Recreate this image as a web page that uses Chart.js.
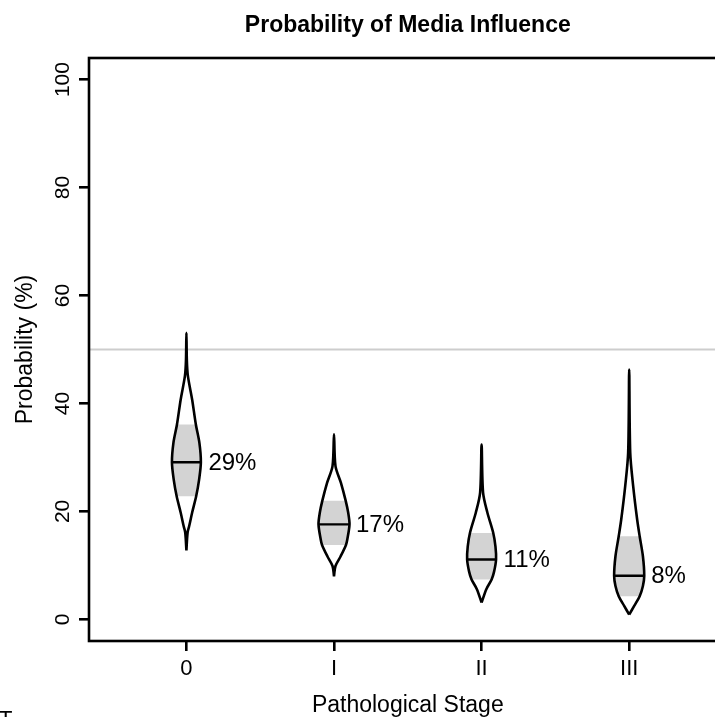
<!DOCTYPE html>
<html>
<head>
<meta charset="utf-8">
<title>Probability of Media Influence</title>
<script src="https://cdn.jsdelivr.net/npm/chart.js@4.4.0/dist/chart.umd.min.js"></script>
<style>
  html, body { margin: 0; padding: 0; background: #fff; overflow: hidden; }
  #wrap { width: 740px; height: 717px; }
</style>
</head>
<body>
<div id="wrap"><canvas id="violinChart" width="740" height="717"></canvas></div>
<script>
// Stages and summary values
var stages = ['0', 'I', 'II', 'III'];
var medians = [29.1, 17.6, 11.1, 8.1];
var pctLabels = ['29%', '17%', '11%', '8%'];
var upperQ = [36.1, 22.0, 16.0, 15.4];
var lowerQ = [22.8, 13.8, 7.4, 4.3];
var yTicks = [0, 20, 40, 60, 80, 100];
var refLine = 50;

// Violin outlines: probability levels (top to bottom) and half widths (stage units)
var levels0 = [53.1, 48.0, 45.1, 40.7, 36.1, 32.7, 29.1, 25.9, 22.8, 19.8, 17.2, 16.1, 12.8];
var widths0 = [0, 0.003, 0.010, 0.039, 0.064, 0.088, 0.098, 0.086, 0.066, 0.039, 0.018, 0.008, 0];
var levels1 = [34.3, 28.4, 25.3, 22.0, 19.8, 17.6, 14.8, 13.8, 11.7, 9.9, 8.0];
var widths1 = [0, 0.010, 0.047, 0.079, 0.096, 0.105, 0.090, 0.081, 0.045, 0.010, 0];
var levels2 = [32.4, 23.5, 19.8, 16.0, 13.5, 11.1, 8.9, 7.4, 5.6, 3.1];
var widths2 = [0, 0.010, 0.039, 0.079, 0.094, 0.098, 0.085, 0.068, 0.032, 0];
var levels3 = [46.3, 30.9, 24.7, 18.5, 15.4, 11.7, 8.1, 6.2, 4.3, 2.5, 0.9];
var widths3 = [0, 0.007, 0.027, 0.054, 0.071, 0.093, 0.102, 0.093, 0.071, 0.034, 0];

var levels = [levels0, levels1, levels2, levels3];
var widths = [widths0, widths1, widths2, widths3];

var X_MIN = -0.66, X_MAX = 3.66;
var Y_MIN = -4, Y_MAX = 104;
var FONT = '"Liberation Sans", Arial, Helvetica, sans-serif';

function outline(i) {
    var lv = levels[i], w = widths[i], pts = [];
    for (var k = lv.length - 1; k >= 0; k--) pts.push({x: i + w[k], y: lv[k]});
    for (var k = 1; k < lv.length; k++) pts.push({x: i - w[k], y: lv[k]});
    return pts;
}

function shaded(i) {
    var lv = levels[i], w = widths[i], pts = [];
    for (var k = lv.length - 1; k >= 0; k--) {
        if (lv[k] >= lowerQ[i] && lv[k] <= upperQ[i]) pts.push({x: i + w[k], y: lv[k]});
    }
    for (var k = 0; k < lv.length; k++) {
        if (lv[k] >= lowerQ[i] && lv[k] <= upperQ[i]) pts.push({x: i - w[k], y: lv[k]});
    }
    return pts;
}

function medianSeg(i) {
    var k = levels[i].indexOf(medians[i]);
    var hw = widths[i][k];
    return [{x: i - hw, y: medians[i]}, {x: i + hw, y: medians[i]}];
}

var datasets = [];
datasets.push({
    data: [{x: X_MIN, y: refLine}, {x: X_MAX, y: refLine}],
    borderColor: '#cdcdcd', borderWidth: 2, pointRadius: 0, fill: false, order: 5
});
for (var i = 0; i < stages.length; i++) {
    datasets.push({
        data: shaded(i), borderWidth: 0, borderColor: 'rgba(0,0,0,0)',
        backgroundColor: '#d3d3d3', fill: 'shape', tension: 0, pointRadius: 0, order: 3
    });
    datasets.push({
        data: outline(i), borderColor: '#000', borderWidth: 2.6,
        fill: false, tension: 0.3, pointRadius: 0, order: 1
    });
    datasets.push({
        data: medianSeg(i), borderColor: '#000', borderWidth: 2.4,
        fill: false, pointRadius: 0, order: 0
    });
}

// Box, titles, rotated y labels and the percent labels
var decorations = {
    id: 'decorations',
    afterDraw: function (chart) {
        var ctx = chart.ctx, a = chart.chartArea;
        var xs = chart.scales.x, ys = chart.scales.y;
        ctx.save();
        ctx.strokeStyle = '#000';
        ctx.lineWidth = 2.6;
        ctx.strokeRect(a.left, a.top, a.right - a.left, a.bottom - a.top);

        ctx.fillStyle = '#000';
        ctx.textAlign = 'center';
        ctx.textBaseline = 'alphabetic';
        ctx.font = 'bold 23px ' + FONT;
        ctx.fillText('Probability of Media Influence', (a.left + a.right) / 2, 32);

        ctx.font = '23px ' + FONT;
        ctx.fillText('Pathological Stage', (a.left + a.right) / 2, 712);

        ctx.save();
        ctx.translate(32, (a.top + a.bottom) / 2);
        ctx.rotate(-Math.PI / 2);
        ctx.fillText('Probability (%)', 0, 0);
        ctx.restore();

        ctx.font = '21px ' + FONT;
        yTicks.forEach(function (v) {
            ctx.save();
            ctx.translate(68.5, ys.getPixelForValue(v));
            ctx.rotate(-Math.PI / 2);
            ctx.fillText(String(v), 0, 0);
            ctx.restore();
        });

        ctx.font = '24px ' + FONT;
        ctx.textAlign = 'left';
        ctx.textBaseline = 'middle';
        for (var i = 0; i < stages.length; i++) {
            ctx.fillText(pctLabels[i], xs.getPixelForValue(i) + 22, ys.getPixelForValue(medians[i]) + 1);
        }

        ctx.textBaseline = 'top';
        ctx.font = '22px ' + FONT;
        ctx.fillText('T', -1, 709);
        ctx.restore();
    }
};

var ctx = document.getElementById('violinChart').getContext('2d');
var chart = new Chart(ctx, {
    type: 'line',
    data: { datasets: datasets },
    options: {
        responsive: false,
        animation: false,
        devicePixelRatio: 1,
        layout: { padding: { top: 58, right: 13.4, bottom: 0, left: 0 } },
        plugins: {
            legend: { display: false },
            tooltip: { enabled: false },
            title: { display: false }
        },
        scales: {
            x: {
                type: 'linear',
                min: X_MIN,
                max: X_MAX,
                afterBuildTicks: function (axis) {
                    axis.ticks = stages.map(function (s, i) { return {value: i}; });
                },
                afterFit: function (axis) { axis.height = 76; },
                border: { display: false },
                grid: { drawOnChartArea: false, drawTicks: true, tickLength: 10, color: '#000', lineWidth: 2.6 },
                ticks: {
                    color: '#000',
                    font: { family: FONT, size: 22 },
                    padding: 5,
                    maxRotation: 0,
                    autoSkip: false,
                    callback: function (value) { return stages[value]; }
                }
            },
            y: {
                type: 'linear',
                min: Y_MIN,
                max: Y_MAX,
                afterBuildTicks: function (axis) {
                    axis.ticks = yTicks.map(function (v) { return {value: v}; });
                },
                afterFit: function (axis) { axis.width = 89; },
                border: { display: false },
                grid: { drawOnChartArea: false, drawTicks: true, tickLength: 10, color: '#000', lineWidth: 2.6 },
                ticks: { display: false }
            }
        }
    },
    plugins: [decorations]
});
</script>
</body>
</html>
